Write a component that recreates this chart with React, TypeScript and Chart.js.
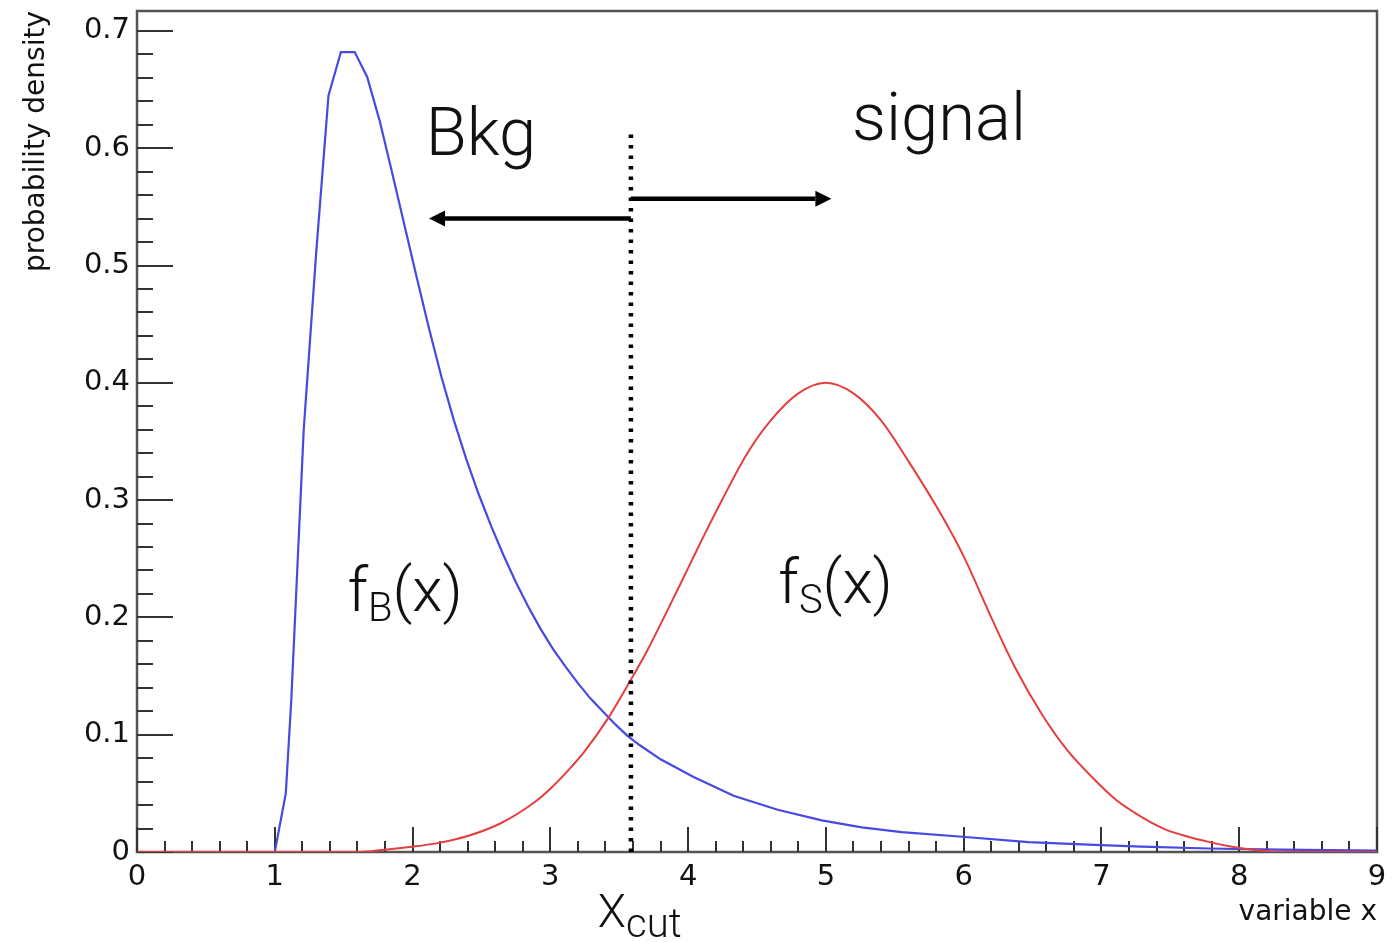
import React, { useEffect, useRef } from 'react';
import { Chart, registerables } from 'chart.js';

Chart.register(...registerables);

// Background density f_B(x): sampled nodes along the x axis and their heights
const BKG_X = [0, 1.0, 1.08, 1.12, 1.21, 1.3, 1.39, 1.48, 1.58, 1.67, 1.76, 1.85, 1.94, 2.03, 2.12, 2.21, 2.3, 2.39, 2.48, 2.57, 2.66, 2.75, 2.84, 2.93, 3.02, 3.11, 3.2, 3.29, 3.38, 3.47, 3.56, 3.65, 3.8, 4.04, 4.33, 4.65, 4.97, 5.26, 5.55, 5.99, 6.47, 6.95, 7.29, 7.78, 8.3, 9.0];
const BKG_Y = [0, 0, 0.05, 0.13, 0.36, 0.51, 0.645, 0.682, 0.682, 0.661, 0.624, 0.58, 0.535, 0.49, 0.446, 0.405, 0.368, 0.335, 0.305, 0.278, 0.253, 0.23, 0.209, 0.19, 0.173, 0.158, 0.144, 0.131, 0.12, 0.109, 0.099, 0.091, 0.079, 0.064, 0.048, 0.036, 0.027, 0.021, 0.017, 0.013, 0.0085, 0.006, 0.0045, 0.003, 0.002, 0.0012];

// Signal density f_S(x)
const SIG_X = [0, 1.6, 1.8, 2.0, 2.2, 2.4, 2.64, 2.88, 3.0, 3.125, 3.25, 3.416, 3.585, 3.7, 3.85, 4.0, 4.095, 4.25, 4.43, 4.6, 4.8, 5.0, 5.2, 5.4, 5.6, 5.84, 6.0, 6.2, 6.37, 6.57, 6.75, 6.93, 7.1, 7.29, 7.45, 7.585, 7.8, 7.97, 8.1, 8.3, 9.0];
const SIG_Y = [0, 0, 0.002, 0.0045, 0.008, 0.0136, 0.0245, 0.042, 0.054, 0.069, 0.086, 0.1135, 0.147, 0.171, 0.206, 0.242, 0.265, 0.301, 0.34, 0.368, 0.391, 0.4, 0.391, 0.368, 0.333, 0.287, 0.252, 0.2, 0.158, 0.117, 0.087, 0.064, 0.045, 0.03, 0.02, 0.0145, 0.008, 0.004, 0.002, 0, 0];

// Cut position and extent of the dotted marker
const X_CUT = 3.585;
const CUT_TOP = 0.615;

// Axis ticks
const X_TICKS = [0, 1, 2, 3, 4, 5, 6, 7, 8, 9];
const Y_TICKS = [0, 0.1, 0.2, 0.3, 0.4, 0.5, 0.6, 0.7];
const Y_TICK_LABELS = ['0', '0.1', '0.2', '0.3', '0.4', '0.5', '0.6', '0.7'];

const AXIS_FONT = '"DejaVu Sans", "Liberation Sans", sans-serif';
const NOTE_FONT = 'Roboto, "Open Sans", "Liberation Sans", sans-serif';

function noteFont(size: number) {
  return `300 ${size}px ${NOTE_FONT}`;
}

function drawLabelWithSub(
  ctx: CanvasRenderingContext2D,
  x: number,
  y: number,
  base: string,
  sub: string,
  tail: string,
  size: number,
  subSize: number,
  drop: number
) {
  ctx.textAlign = 'left';
  ctx.textBaseline = 'alphabetic';
  ctx.font = noteFont(size);
  ctx.fillText(base, x, y);
  let cx = x + ctx.measureText(base).width;
  ctx.font = noteFont(subSize);
  ctx.fillText(sub, cx, y + drop);
  cx += ctx.measureText(sub).width;
  if (tail) {
    ctx.font = noteFont(size);
    ctx.fillText(tail, cx, y);
  }
}

function drawArrow(ctx: CanvasRenderingContext2D, x0: number, x1: number, y: number) {
  const dir = x1 > x0 ? 1 : -1;
  const head = 16;
  const half = 8;
  ctx.beginPath();
  ctx.moveTo(x0, y);
  ctx.lineTo(x1 - dir * head, y);
  ctx.stroke();
  ctx.beginPath();
  ctx.moveTo(x1, y);
  ctx.lineTo(x1 - dir * head, y - half);
  ctx.lineTo(x1 - dir * head, y + half);
  ctx.closePath();
  ctx.fill();
}

const framePlugin = {
  id: 'rootFrame',
  beforeDatasetsDraw(chart: any) {
    const { ctx, chartArea: a, scales } = chart;
    const xs = scales.x;
    const ys = scales.y;
    ctx.save();
    ctx.strokeStyle = '#555';
    ctx.lineWidth = 2.5;
    ctx.strokeRect(a.left, a.top, a.right - a.left, a.bottom - a.top);

    ctx.strokeStyle = '#333';
    ctx.lineWidth = 2;
    ctx.beginPath();
    // inward x ticks: majors every 1, minors every 0.2
    for (let i = 0; i <= 45; i++) {
      const px = Math.round(xs.getPixelForValue(i * 0.2));
      const len = i % 5 === 0 ? 25 : 11;
      ctx.moveTo(px, a.bottom);
      ctx.lineTo(px, a.bottom - len);
    }
    // inward y ticks: majors every 0.1, minors every 0.02
    for (let i = 0; i <= 35; i++) {
      const py = Math.round(ys.getPixelForValue(i * 0.02));
      const len = i % 5 === 0 ? 36 : 16;
      ctx.moveTo(a.left, py);
      ctx.lineTo(a.left + len, py);
    }
    ctx.stroke();
    ctx.restore();
  },
  afterDatasetsDraw(chart: any) {
    const { ctx, scales } = chart;
    const xs = scales.x;
    const ys = scales.y;
    const X = (v: number) => xs.getPixelForValue(v);
    const Y = (v: number) => ys.getPixelForValue(v);
    const cut = X(X_CUT);

    ctx.save();
    ctx.fillStyle = '#000';
    ctx.strokeStyle = '#000';
    ctx.lineWidth = 4.5;
    drawArrow(ctx, cut, X(2.12), Y(0.54));
    drawArrow(ctx, cut, X(5.04), Y(0.557));

    ctx.fillStyle = '#111';
    ctx.textAlign = 'left';
    ctx.textBaseline = 'alphabetic';
    ctx.font = noteFont(67);
    ctx.fillText('Bkg', X(2.095), Y(0.594));
    ctx.fillText('signal', X(5.19), Y(0.607));

    drawLabelWithSub(ctx, X(1.527), Y(0.2055), 'f', 'B', '(x)', 62, 40, 10);
    drawLabelWithSub(ctx, X(4.655), Y(0.2123), 'f', 'S', '(x)', 62, 40, 10);
    drawLabelWithSub(ctx, X(3.345), Y(-0.064), 'X', 'cut', '', 46, 40, 10);
    ctx.restore();
  },
};

export default function App() {
  const canvasRef = useRef<HTMLCanvasElement | null>(null);

  useEffect(() => {
    document.body.style.margin = '0';
    const canvas = canvasRef.current;
    if (!canvas) return;

    const bkg = BKG_X.map((x, i) => ({ x, y: BKG_Y[i] }));
    const sig = SIG_X.map((x, i) => ({ x, y: SIG_Y[i] }));
    const cutLine = [
      { x: X_CUT, y: 0 },
      { x: X_CUT, y: CUT_TOP },
    ];

    const chart = new Chart(canvas, {
      type: 'line',
      data: {
        datasets: [
          {
            label: 'cut',
            data: cutLine,
            borderColor: '#000',
            borderWidth: 4.5,
            borderDash: [3.5, 7],
            borderCapStyle: 'butt',
            pointRadius: 0,
            tension: 0,
            order: -1,
          },
          {
            label: 'f_S(x)',
            data: sig,
            borderColor: 'rgb(228, 62, 62)',
            borderWidth: 2,
            pointRadius: 0,
            cubicInterpolationMode: 'monotone',
            order: 0,
          },
          {
            label: 'f_B(x)',
            data: bkg,
            borderColor: 'rgb(72, 72, 226)',
            borderWidth: 2.2,
            pointRadius: 0,
            tension: 0,
            order: 1,
          },
        ],
      },
      options: {
        responsive: false,
        animation: false,
        parsing: false,
        layout: { padding: { left: 0, top: 11, right: 23, bottom: 0 } },
        plugins: {
          legend: { display: false },
          tooltip: { enabled: false },
        },
        scales: {
          x: {
            type: 'linear',
            min: 0,
            max: 9,
            afterFit: (s: any) => {
              s.height = 90;
              s.paddingLeft = 0;
              s.paddingRight = 0;
            },
            afterBuildTicks: (s: any) => {
              s.ticks = X_TICKS.map((v) => ({ value: v }));
            },
            grid: { display: false, drawTicks: false },
            border: { display: false },
            ticks: {
              padding: 8,
              maxRotation: 0,
              autoSkip: false,
              color: '#111',
              font: { family: AXIS_FONT, size: 29 },
              callback: (v: any) => String(v),
            },
            title: {
              display: true,
              text: 'variable x',
              align: 'end',
              color: '#111',
              font: { family: AXIS_FONT, size: 28 },
              padding: { top: 0, bottom: 12 },
            },
          },
          y: {
            type: 'linear',
            min: 0,
            max: 0.717,
            afterFit: (s: any) => {
              s.width = 137;
              s.paddingTop = 0;
              s.paddingBottom = 0;
            },
            afterBuildTicks: (s: any) => {
              s.ticks = Y_TICKS.map((v) => ({ value: v }));
            },
            grid: { display: false, drawTicks: false },
            border: { display: false },
            ticks: {
              padding: 7,
              autoSkip: false,
              color: '#111',
              font: { family: AXIS_FONT, size: 29 },
              callback: (_v: any, i: number) => Y_TICK_LABELS[i],
            },
            title: {
              display: true,
              text: 'probability density',
              align: 'end',
              color: '#111',
              font: { family: AXIS_FONT, size: 28 },
              padding: { top: 20, bottom: 0 },
            },
          },
        },
      },
      plugins: [framePlugin],
    } as any);

    return () => {
      chart.destroy();
    };
  }, []);

  return (
    <div style={{ width: 1400, height: 942, background: '#fff' }}>
      <canvas ref={canvasRef} width={1400} height={942} style={{ display: 'block' }} />
    </div>
  );
}
